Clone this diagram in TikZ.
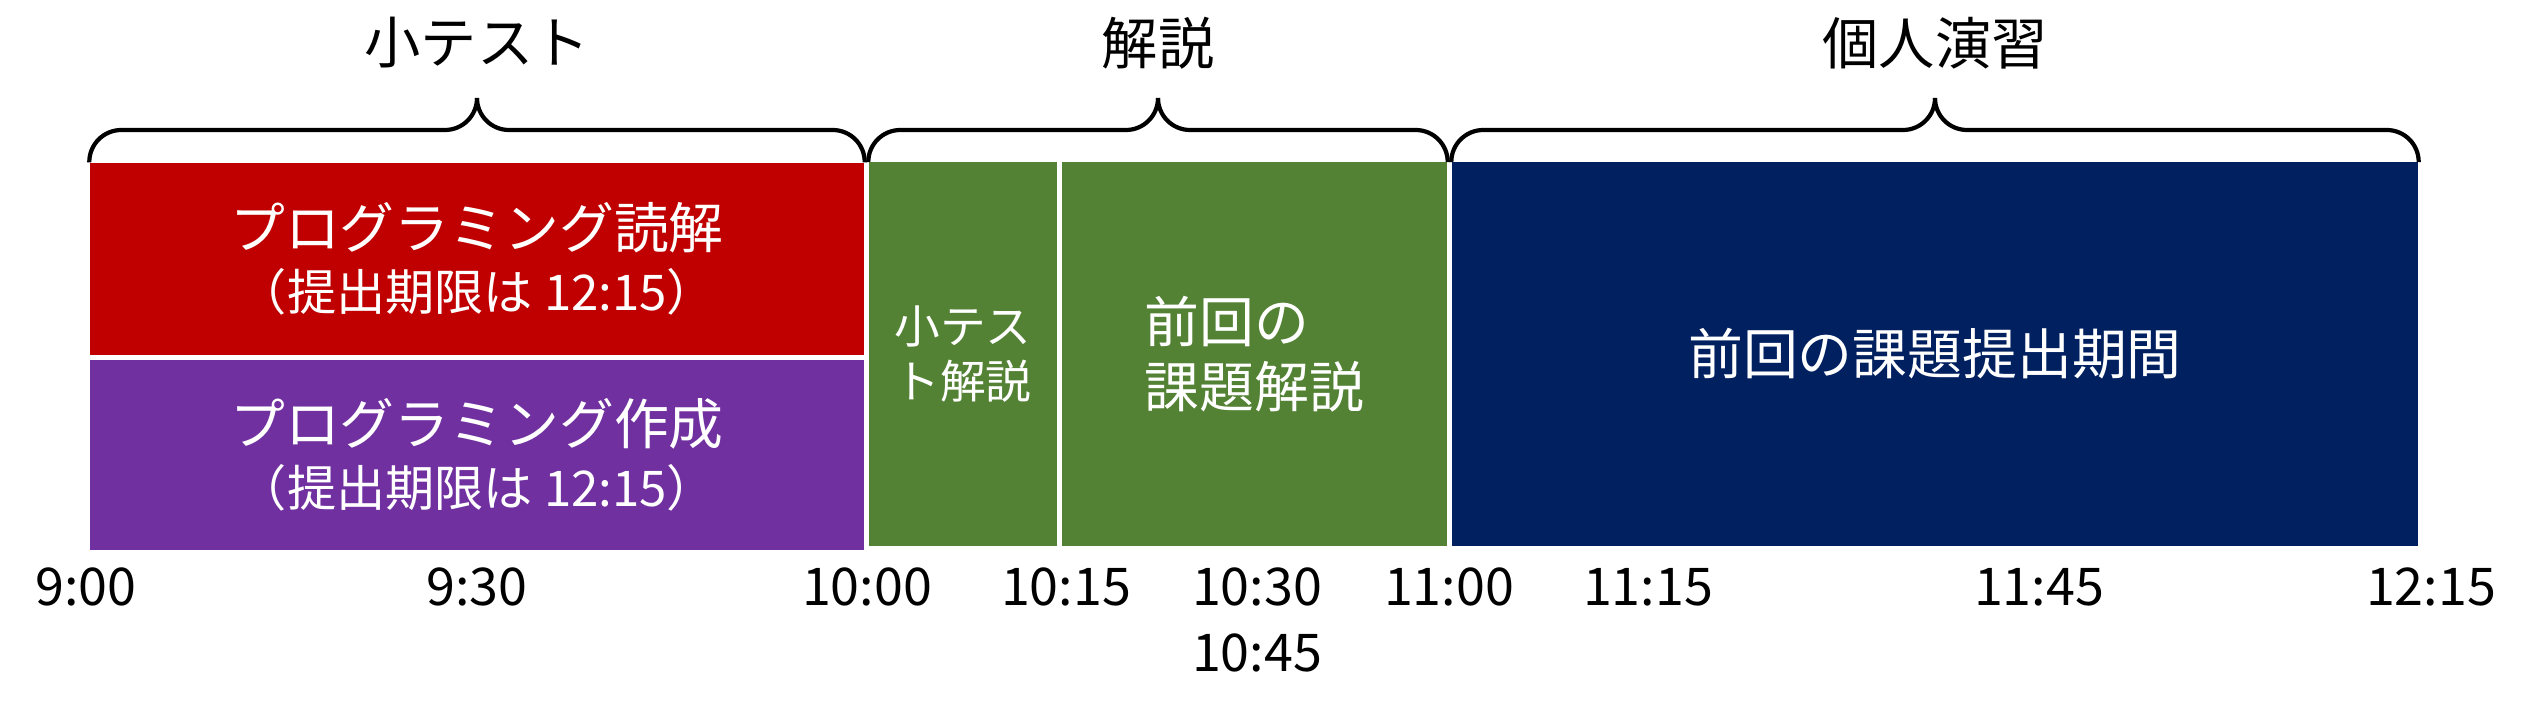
\documentclass[tikz,border=0pt]{standalone}
\usepackage{fontspec}
\setmainfont{Noto Sans CJK JP}
\usepackage{tikz}

\definecolor{readred}{HTML}{C00000}
\definecolor{makepurple}{HTML}{7030A0}
\definecolor{talkgreen}{HTML}{548235}
\definecolor{selfnavy}{HTML}{002060}

\newcommand\titlejp{\fontsize{16pt}{19pt}\selectfont}
\newcommand\bigjp{\fontsize{15.6pt}{17.6pt}\selectfont}
\newcommand\smalljp{\fontsize{14pt}{17.6pt}\selectfont}
\newcommand\midjp{\fontsize{13pt}{15.6pt}\selectfont}
\newcommand\reviewjp{\fontsize{15.6pt}{18.5pt}\selectfont}
\newcommand\timejp{\fontsize{14.8pt}{16pt}\selectfont}

\begin{document}
\begin{tikzpicture}[block/.style={rectangle, inner sep=0pt, text=white, align=center}, group/.style={font=\titlejp}, timelabel/.style={font=\timejp}, curly/.style={draw=black, line width=1.2pt, rounded corners=0.32cm}]
			\useasboundingbox (0,0) rectangle (25.34,-7.19);
			
			\node[block, fill=readred, minimum width=7.74cm, minimum height=1.92cm, font=\bigjp] (read) at (4.77,-2.59){プログラミング読解\\{\smalljp （提出期限は 12:15）}};
			\node[block, fill=makepurple, minimum width=7.74cm, minimum height=1.90cm, font=\bigjp] (make) at (4.77,-4.55){プログラミング作成\\{\smalljp （提出期限は 12:15）}};
			\node[block, fill=talkgreen, minimum width=1.88cm, minimum height=3.84cm, font=\midjp] (quiz) at (9.63,-3.54){小テス\\ト解説};
			\node[block, fill=talkgreen, minimum width=3.85cm, minimum height=3.84cm, align=left, font=\reviewjp] (review) at (12.545,-3.54){前回の\\課題解説};
			\node[block, fill=selfnavy, minimum width=9.66cm, minimum height=3.84cm, font=\bigjp] (submit) at (19.35,-3.54){前回の課題提出期間};
			
			\coordinate (midA) at (4.77,-1.30);
			\coordinate (tipA) at (4.77,-0.98);
			\coordinate (midB) at (11.58,-1.30);
			\coordinate (tipB) at (11.58,-0.98);
			\coordinate (midC) at (19.35,-1.30);
			\coordinate (tipC) at (19.35,-0.98);
			
			\draw[curly] (read.north west) |- (midA) -- (tipA);
			\draw[curly] (read.north east) |- (midA) -- (tipA);
			\draw[curly] (quiz.north west) |- (midB) -- (tipB);
			\draw[curly] (review.north east) |- (midB) -- (tipB);
			\draw[curly] (submit.north west) |- (midC) -- (tipC);
			\draw[curly] (submit.north east) |- (midC) -- (tipC);
			
			\node[group] (gtest) at (4.77,-0.43){小テスト};
			\node[group] (gtalk) at (11.58,-0.43){解説};
			\node[group] (gself) at (19.35,-0.43){個人演習};
			
			\node[timelabel] (t900) at (0.86,-5.87){9:00};
			\node[timelabel] (t930) at (4.77,-5.87){9:30};
			\node[timelabel] (t1000) at (8.67,-5.87){10:00};
			\node[timelabel] (t1015) at (10.66,-5.87){10:15};
			\node[timelabel] (t1030) at (12.57,-5.87){10:30};
			\node[timelabel] (t1045) at (12.57,-6.53){10:45};
			\node[timelabel] (t1100) at (14.49,-5.87){11:00};
			\node[timelabel] (t1115) at (16.48,-5.87){11:15};
			\node[timelabel] (t1145) at (20.39,-5.87){11:45};
			\node[timelabel] (t1215) at (24.31,-5.87){12:15};
			\end{tikzpicture}
\end{document}
